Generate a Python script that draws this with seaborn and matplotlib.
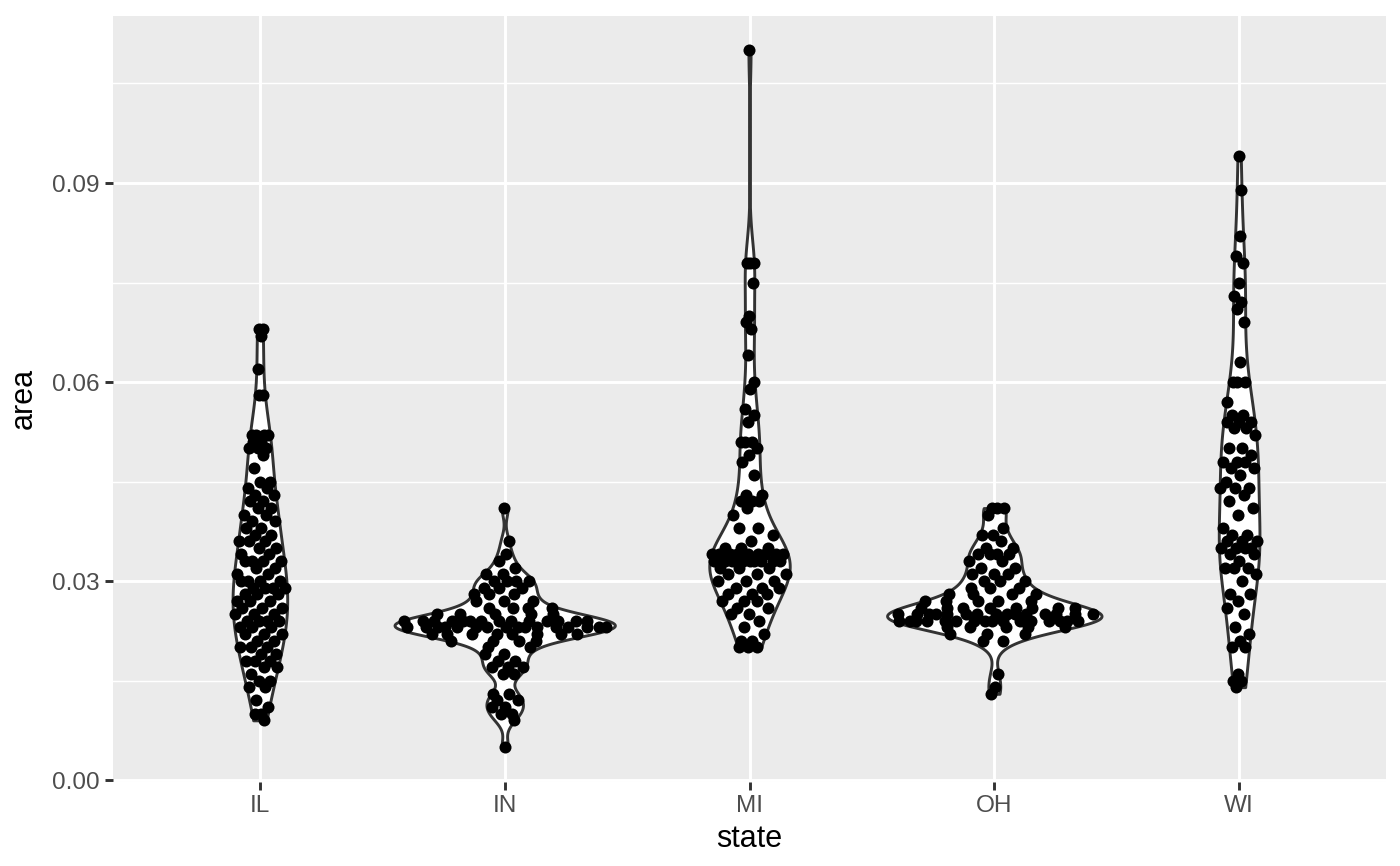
import numpy as np
import pandas as pd
import matplotlib
matplotlib.use("Agg")
import matplotlib.pyplot as plt
import seaborn as sns
from matplotlib.ticker import FixedLocator

states = ["IL", "IN", "MI", "OH", "WI"]

area_il = [0.068, 0.068, 0.067, 0.062, 0.058, 0.058,
           0.052, 0.052, 0.052, 0.052, 0.051, 0.051, 0.050, 0.050, 0.050, 0.049, 0.047,
           0.045, 0.045, 0.044, 0.044, 0.043, 0.043, 0.042, 0.042, 0.041, 0.041, 0.040, 0.040,
           0.039, 0.039, 0.038, 0.038,
           0.037, 0.037, 0.036, 0.036, 0.036, 0.035, 0.035, 0.034, 0.034, 0.033, 0.033, 0.033,
           0.033, 0.032, 0.032, 0.031, 0.031,
           0.030, 0.030, 0.030, 0.030, 0.029, 0.029, 0.029, 0.029, 0.028, 0.028, 0.028,
           0.027, 0.027, 0.027, 0.026, 0.026, 0.026,
           0.025, 0.025, 0.025, 0.024, 0.024, 0.024, 0.024, 0.023, 0.023, 0.023, 0.022, 0.022,
           0.022, 0.021, 0.021, 0.020, 0.020, 0.020,
           0.019, 0.019, 0.018, 0.018, 0.018, 0.017, 0.017, 0.016, 0.015, 0.015, 0.014, 0.014,
           0.012, 0.011, 0.010, 0.010, 0.009]

area_in = [0.041, 0.036, 0.034, 0.033, 0.032, 0.031, 0.031,
           0.030, 0.030, 0.030, 0.030, 0.029, 0.029, 0.029, 0.028, 0.028, 0.028,
           0.027, 0.027, 0.027, 0.026, 0.026, 0.026, 0.026,
           0.025, 0.025, 0.025, 0.025, 0.025,
           0.024, 0.024, 0.024, 0.024, 0.024, 0.024, 0.024, 0.024, 0.024, 0.024, 0.024, 0.024,
           0.024, 0.024,
           0.023, 0.023, 0.023, 0.023, 0.023, 0.023, 0.023, 0.023, 0.023, 0.023, 0.023, 0.023,
           0.023, 0.023, 0.023, 0.023,
           0.022, 0.022, 0.022, 0.022, 0.022, 0.022, 0.022, 0.022,
           0.021, 0.021, 0.021, 0.021,
           0.020, 0.020, 0.019, 0.019,
           0.018, 0.018, 0.017, 0.017, 0.017, 0.016, 0.016,
           0.013, 0.013, 0.012, 0.012, 0.011, 0.011, 0.010, 0.010, 0.009, 0.005]

area_mi = [0.110, 0.078, 0.078, 0.078, 0.075, 0.070, 0.069, 0.068, 0.064, 0.060, 0.059,
           0.056, 0.055, 0.054, 0.051, 0.051, 0.051, 0.050, 0.049, 0.048, 0.046,
           0.043, 0.043, 0.042, 0.042, 0.042, 0.041, 0.040, 0.038, 0.038, 0.037, 0.036,
           0.035, 0.035, 0.035,
           0.034, 0.034, 0.034, 0.034, 0.034, 0.034, 0.034, 0.034, 0.034,
           0.033, 0.033, 0.033, 0.033, 0.033, 0.033, 0.033, 0.033, 0.033,
           0.032, 0.032, 0.032, 0.031, 0.031, 0.031,
           0.030, 0.030, 0.030, 0.029, 0.029, 0.029, 0.028, 0.028, 0.028,
           0.027, 0.027, 0.027, 0.026, 0.026, 0.025, 0.025, 0.024, 0.023,
           0.022, 0.021, 0.021, 0.020, 0.020, 0.020]

area_oh = [0.041, 0.041, 0.041, 0.040, 0.038, 0.037, 0.037, 0.036, 0.035, 0.035,
           0.034, 0.034, 0.034, 0.034, 0.033, 0.033, 0.032, 0.032, 0.031, 0.031, 0.031,
           0.030, 0.030, 0.030, 0.029, 0.029, 0.029, 0.028, 0.028, 0.028, 0.028,
           0.027, 0.027, 0.027, 0.027, 0.027,
           0.026, 0.026, 0.026, 0.026, 0.026, 0.026, 0.026, 0.026,
           0.025, 0.025, 0.025, 0.025, 0.025, 0.025, 0.025, 0.025, 0.025, 0.025, 0.025, 0.025,
           0.025, 0.025, 0.025,
           0.024, 0.024, 0.024, 0.024, 0.024, 0.024, 0.024, 0.024, 0.024, 0.024, 0.024, 0.024,
           0.024, 0.024, 0.024, 0.024,
           0.023, 0.023, 0.023, 0.023, 0.023, 0.022, 0.022, 0.022, 0.021, 0.021,
           0.016, 0.014, 0.013]

area_wi = [0.094, 0.089, 0.082, 0.079, 0.078, 0.075, 0.073, 0.072, 0.071, 0.069, 0.063,
           0.060, 0.060, 0.060, 0.057, 0.055, 0.055, 0.054, 0.054, 0.054, 0.053, 0.053, 0.052,
           0.050, 0.050, 0.049, 0.048, 0.048, 0.048, 0.047, 0.047, 0.046, 0.045,
           0.044, 0.044, 0.044, 0.043, 0.042, 0.041, 0.040, 0.038, 0.037, 0.037,
           0.036, 0.036, 0.036, 0.035, 0.035, 0.035, 0.035, 0.034, 0.034, 0.033,
           0.032, 0.032, 0.032, 0.031, 0.030, 0.028, 0.028, 0.027, 0.026, 0.025,
           0.023, 0.022, 0.021, 0.020, 0.020, 0.016, 0.015, 0.015, 0.014]

values = {"IL": area_il, "IN": area_in, "MI": area_mi, "OH": area_oh, "WI": area_wi}
df = pd.DataFrame({
    "state": np.concatenate([[s] * len(values[s]) for s in states]),
    "area": np.concatenate([values[s] for s in states]).astype(float),
})


def nrd0_bw(d):
    d = np.asarray(d, dtype=float)
    sd = d.std(ddof=1)
    q75, q25 = np.percentile(d, [75, 25])
    lo = min(sd, (q75 - q25) / 1.34)
    if lo <= 0:
        lo = sd
    return 0.9 * lo * len(d) ** -0.2


def nrd0_factor(kde):
    d = np.asarray(kde.dataset).ravel()
    return nrd0_bw(d) / d.std(ddof=1)


plt.rcParams['font.family'] = ['Liberation Sans', 'DejaVu Sans']

fig = plt.figure(figsize=(14, 8.66), dpi=100)
ax = fig.add_axes([113 / 1400, 1 - 781.7 / 866, (1386 - 113) / 1400, (781.7 - 15.5) / 866])
ax.set_facecolor('#EBEBEB')

LW = 2.1
sns.violinplot(data=df, x="state", y="area", order=states, bw_method=nrd0_factor,
               cut=0, gridsize=512, density_norm="area", width=0.9, inner=None,
               color="white", linecolor="#333333", linewidth=LW, saturation=1, ax=ax)

# sina-style horizontal spread, bounded by each group's density
dens_info = {}
gmax = 0.0
for s in states:
    d = np.asarray(values[s], dtype=float)
    h = nrd0_bw(d)
    grid = np.linspace(d.min(), d.max(), 512)
    dens = np.exp(-0.5 * ((grid[:, None] - d[None, :]) / h) ** 2).sum(1) / (len(d) * h * np.sqrt(2 * np.pi))
    dens_info[s] = (grid, dens)
    gmax = max(gmax, dens.max())

xs, ys = [], []
for i, s in enumerate(states):
    grid, dens = dens_info[s]
    d = np.asarray(values[s], dtype=float)
    half = 0.45 * np.interp(d, grid, dens) / gmax
    k = np.arange(len(d))
    u = 2 * ((k * 0.6180339887 + 0.37) % 1.0) - 1
    xs.append(i + u * half * 0.97)
    ys.append(d)
xs = np.concatenate(xs)
ys = np.concatenate(ys)
sns.scatterplot(x=xs, y=ys, color="black", s=75, linewidth=0, ax=ax, legend=False, zorder=3)

ax.set_xlim(-0.6, 4.6)
ax.set_ylim(-0.00025, 0.11525)
ax.set_xticks(range(len(states)))
ax.set_xticklabels(states)
yt = [0.0, 0.03, 0.06, 0.09]
ax.set_yticks(yt)
ax.set_yticklabels([f"{v:.2f}" for v in yt])
ax.yaxis.set_minor_locator(FixedLocator([0.015, 0.045, 0.075, 0.105]))
ax.set_axisbelow(True)
ax.grid(which="major", axis="both", color="white", linewidth=LW)
ax.grid(which="minor", axis="y", color="white", linewidth=LW / 2)
ax.tick_params(which="major", length=5.5, width=LW, color="#333333",
               labelcolor="#4D4D4D", labelsize=17.6, pad=4.0)
ax.tick_params(which="minor", length=0)
for sp in ax.spines.values():
    sp.set_visible(False)
ax.set_xlabel("state", fontsize=22, color="black", labelpad=5)
ax.set_ylabel("area", fontsize=22, color="black", labelpad=10)

fig.savefig("out.png", dpi=100)
